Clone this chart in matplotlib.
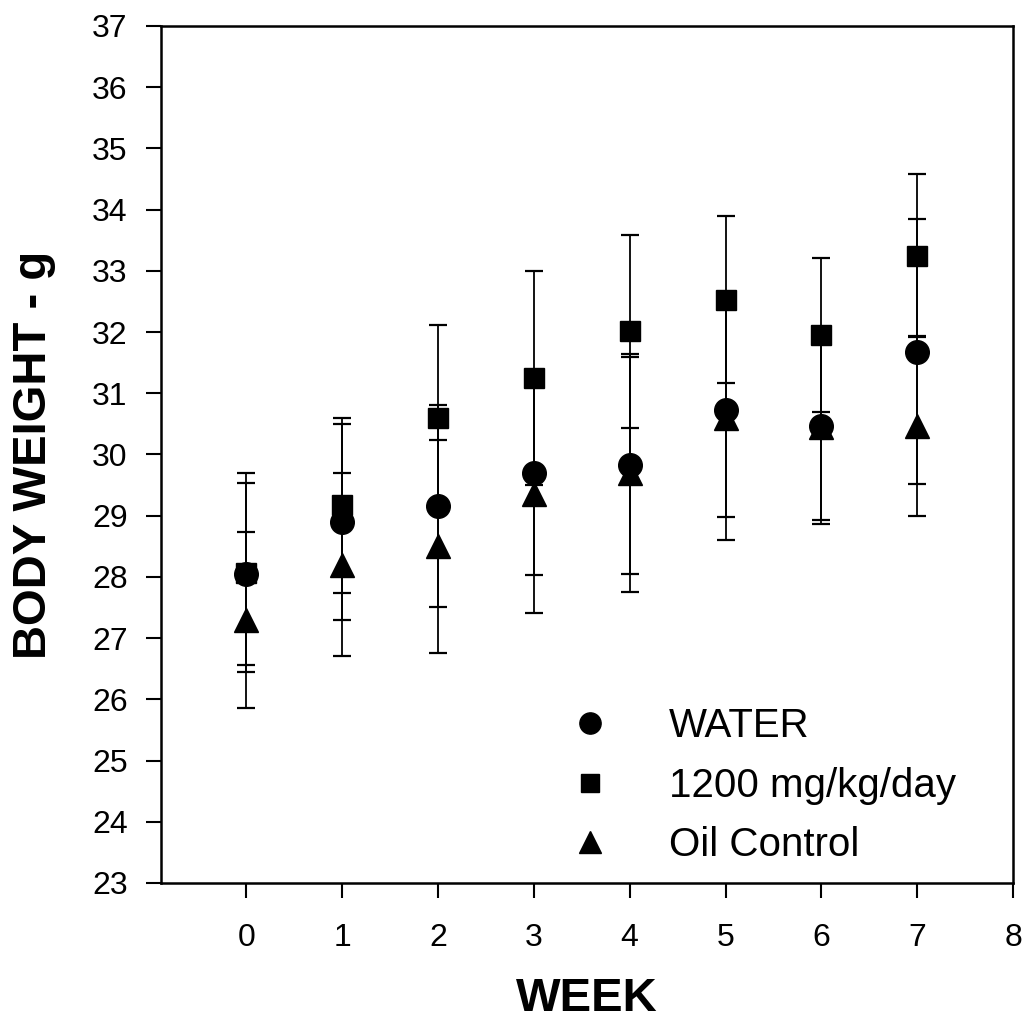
import numpy as np
import matplotlib
matplotlib.use("Agg")
import matplotlib.pyplot as plt

weeks = [0, 1, 2, 3, 4, 5, 6, 7]

water = [28.05, 28.9, 29.15, 29.7, 29.82, 30.72, 30.47, 31.68]
water_sd = [1.49, 1.6, 1.65, 1.67, 1.78, 1.74, 1.54, 2.16]

dose = [28.07, 29.17, 30.6, 31.25, 32.01, 32.53, 31.95, 33.25]
dose_sd = [1.63, 1.43, 1.52, 1.75, 1.58, 1.37, 1.26, 1.33]

oil = [27.3, 28.2, 28.5, 29.36, 29.7, 30.6, 30.45, 30.47]
oil_sd = [1.44, 1.5, 1.74, 1.95, 1.94, 2.0, 1.59, 1.47]

labels = ["WATER", "1200 mg/kg/day", "Oil Control"]

plt.rcParams['font.family'] = ['Liberation Sans', 'DejaVu Sans']

fig = plt.figure(figsize=(10.27, 10.23), dpi=100)
ax = fig.add_axes([0.1568, 0.1369, 0.8296, 0.8377])

handles = []
for y, sd, m, ms in [(water, water_sd, 'o', 17), (dose, dose_sd, 's', 15), (oil, oil_sd, '^', 17.5)]:
    eb = ax.errorbar(weeks, y, yerr=sd, fmt=m, color='black', markersize=ms,
                     ecolor='black', elinewidth=1.3, capsize=6.5, capthick=1.6)
    handles.append(eb[0])

ax.set_xlim(-0.89, 8)
ax.set_ylim(23, 37)
ax.set_xticks(range(0, 9))
ax.set_yticks(range(23, 38))
ax.tick_params(direction='out', length=11, width=1.5, labelsize=23)
ax.tick_params(axis='y', pad=13)
ax.tick_params(axis='x', pad=18)
for s in ax.spines.values():
    s.set_linewidth(1.8)

ax.set_xlabel("WEEK", fontsize=34, fontweight='bold', labelpad=17)
ax.set_ylabel("BODY WEIGHT - g", fontsize=34, fontweight='bold', labelpad=26)

ax.legend(handles, labels, loc='upper left', bbox_to_anchor=(0.48, 0.205),
          frameon=False, fontsize=29, handlelength=1.0, handletextpad=1.45,
          labelspacing=0.53, borderaxespad=0, borderpad=0, markerscale=0.9)

fig.savefig("out.png", dpi=100)
